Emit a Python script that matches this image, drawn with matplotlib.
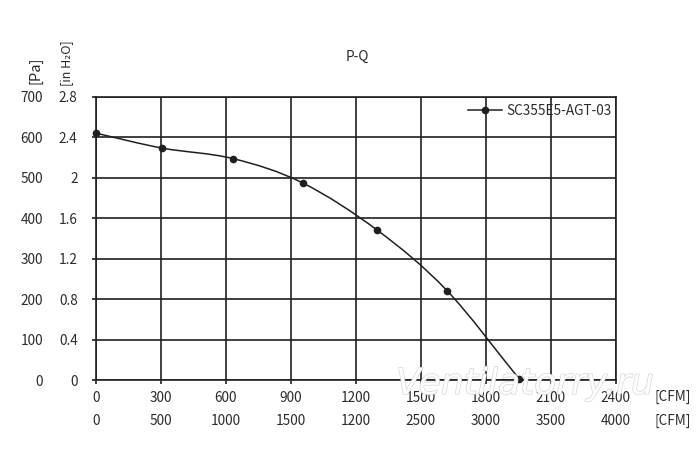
import numpy as np
import matplotlib
matplotlib.use("Agg")
import matplotlib.pyplot as plt
from matplotlib.path import Path
from matplotlib.patches import PathPatch
from matplotlib.lines import Line2D
import matplotlib.patheffects as pe

plt.rcParams['font.family'] = ['Noto Sans CJK JP', 'DejaVu Sans']

# data
flow_cfm = [0, 307, 634, 955, 1300, 1621, 1954]
pressure_pa = [610, 573, 547, 487, 370, 221, 3]
series_name = "SC355E5-AGT-03"

x_ticks = [0, 300, 600, 900, 1200, 1500, 1800, 2100, 2400]
x_labels_2 = ["0", "500", "1000", "1500", "1200", "2500", "3000", "3500", "4000"]
y_ticks = [0, 100, 200, 300, 400, 500, 600, 700]
y_labels_2 = ["0", "0.4", "0.8", "1.2", "1.6", "2", "2.4", "2.8"]

ink = '#231f20'
txt = '#2b2b2b'
fs = 9.8

fig = plt.figure(figsize=(7, 4.73), dpi=100)
ax = fig.add_axes([95.7 / 700, 1 - 380 / 473, 520 / 700, 283.3 / 473])
ax.set_xlim(0, 2400)
ax.set_ylim(0, 700)

ax.set_xticks(x_ticks)
ax.set_yticks(y_ticks)
ax.grid(True, color=ink, linewidth=1.2)
for s in ax.spines.values():
    s.set_color(ink)
    s.set_linewidth(1.2)
ax.tick_params(axis='x', length=3, width=1.2, color=ink, labelsize=fs, labelcolor=txt, pad=5)
ax.tick_params(axis='y', length=3, width=1.2, color=ink, labelsize=fs, labelcolor=txt, pad=35)

# second y label column (in H2O)
sy = ax.secondary_yaxis('left')
sy.set_yticks(y_ticks, labels=y_labels_2)
sy.tick_params(length=0, labelsize=fs, labelcolor=txt, pad=13)
sy.spines['left'].set_visible(False)

# second x label row
sx = ax.secondary_xaxis('bottom')
sx.set_xticks(x_ticks, labels=x_labels_2)
sx.tick_params(length=0, labelsize=fs, labelcolor=txt, pad=24.5)
sx.spines['bottom'].set_visible(False)

# smooth curve through the points (Catmull-Rom as cubic Bezier)
pts = np.column_stack([flow_cfm, pressure_pa]).astype(float)
ext = np.vstack([2 * pts[0] - pts[1], pts, 2 * pts[-1] - pts[-2]])
verts = [tuple(pts[0])]
codes = [Path.MOVETO]
for i in range(1, len(ext) - 2):
    p0, p1, p2, p3 = ext[i - 1], ext[i], ext[i + 1], ext[i + 2]
    c1 = p1 + (p2 - p0) / 6
    c2 = p2 - (p3 - p1) / 6
    verts += [tuple(c1), tuple(c2), tuple(p2)]
    codes += [Path.CURVE4] * 3
ax.add_patch(PathPatch(Path(verts, codes), facecolor='none', edgecolor=ink, lw=1.1, zorder=3))
ax.plot(flow_cfm, pressure_pa, linestyle='none', marker='o', markersize=4.5, color=ink, zorder=4, clip_on=False)

handle = Line2D([], [], color=ink, lw=1.1, marker='o', markersize=4.5)
ax.legend([handle], [series_name], loc='upper right', bbox_to_anchor=(1.005, 1.0),
          frameon=False, fontsize=fs, handlelength=2.5, handletextpad=0.3,
          borderaxespad=0.1, labelcolor=txt)

fig.text(357 / 700, 1 - 56.7 / 473, "P-Q", ha='center', va='center', fontsize=fs, color=txt)
fig.text(35 / 700, 1 - 70 / 473, "[Pa]", ha='center', va='center', rotation=90, fontsize=fs + 0.8, color=txt)
fig.text(66.7 / 700, 1 - 63 / 473, "[in H₂O]", ha='center', va='center', rotation=90, fontsize=fs - 0.8, color=txt)
fig.text(654 / 700, 1 - 396.7 / 473, "[CFM]", ha='left', va='center', fontsize=fs, color=txt)
fig.text(654 / 700, 1 - 420.7 / 473, "[CFM]", ha='left', va='center', fontsize=fs, color=txt)

# watermark
fig.text(525 / 700, 1 - 384 / 473, "Ventilatorry.ru", ha='center', va='center', fontsize=26,
         style='italic', family='DejaVu Sans', color='white', alpha=0.9, zorder=10,
         path_effects=[pe.Stroke(linewidth=0.9, foreground='#cfcfcf'), pe.Normal()])

fig.savefig("out.png", dpi=100)
